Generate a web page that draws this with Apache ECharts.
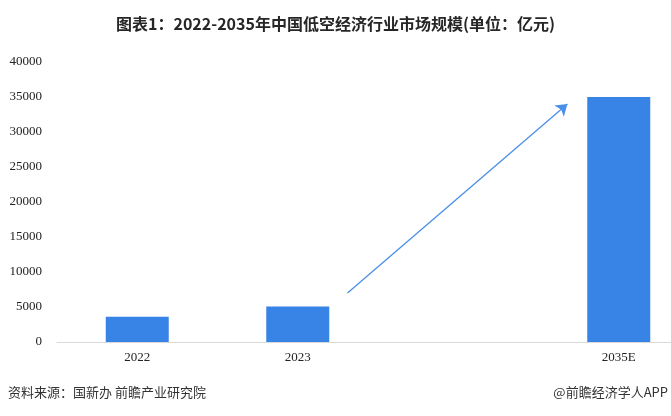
<!DOCTYPE html>
<html>
<head>
<meta charset="utf-8">
<script src="https://cdn.jsdelivr.net/npm/echarts@6/dist/echarts.min.js"></script>
<style>html,body{margin:0;padding:0;background:#fff}#c{width:671px;height:416px}</style>
</head>
<body>
<div id="c"></div>
<script>
var categories = ['2022', '2023', '', '2035E'];
var values = [3600, 5059, null, 35000];
var yTicks = { min: 0, max: 40000, interval: 5000 };
var arrowFrom = [1.31, 7000];
var arrowTo = [2.68, 34000];

var chart = echarts.init(document.getElementById('c'), null, { renderer: 'canvas' });
chart.setOption({
  backgroundColor: '#ffffff',
  animation: false,
  title: {
    text: '图表1：2022-2035年中国低空经济行业市场规模(单位：亿元)',
    left: 'center',
    top: 11,
    textStyle: { fontFamily: 'Noto Sans CJK SC', fontWeight: 'bold', fontSize: 16, color: '#262626' }
  },
  graphic: [
    { type: 'text', left: 8, top: 386, style: { text: '资料来源：国新办 前瞻产业研究院', fontFamily: 'Noto Sans CJK SC', fontSize: 13, fill: '#333' } },
    { type: 'text', right: 3, top: 386, style: { text: '@前瞻经济学人APP', fontFamily: 'Noto Sans CJK SC', fontSize: 13, fill: '#333' } }
  ],
  grid: { left: 57, top: 62, width: 642, height: 280, containLabel: false, outerBoundsMode: 'none' },
  xAxis: [{
    type: 'category',
    data: categories,
    axisLine: { show: true, lineStyle: { color: '#d9d9d9', width: 1 } },
    axisTick: { show: false },
    axisLabel: { fontFamily: 'Liberation Serif', fontSize: 13, color: '#222', margin: 9 }
  }, {
    type: 'value',
    show: false,
    min: -0.5, max: 3.5,
    position: 'bottom'
  }],
  yAxis: {
    type: 'value',
    min: yTicks.min, max: yTicks.max, interval: yTicks.interval,
    axisLine: { show: false },
    axisTick: { show: false },
    splitLine: { show: false },
    axisLabel: { fontFamily: 'Liberation Serif', fontSize: 13, color: '#222', margin: 15, formatter: function (v) { return String(v); } }
  },
  series: [{
    type: 'bar',
    data: values,
    barWidth: 63,
    itemStyle: { color: '#3883e6' }
  }, {
    type: 'line',
    xAxisIndex: 1,
    data: [arrowFrom, arrowTo],
    symbol: 'none',
    showSymbol: false,
    silent: true,
    itemStyle: { color: '#4a8fe9' },
    lineStyle: { width: 0, color: 'transparent' },
    markLine: {
      silent: true,
      symbol: ['none', 'arrow'],
      symbolSize: 11,
      label: { show: false },
      itemStyle: { color: '#4a8fe9' },
      lineStyle: { color: '#4a8fe9', width: 1.3, type: 'solid' },
      data: [[{ coord: arrowFrom }, { coord: arrowTo }]]
    }
  }]
});
</script>
</body>
</html>
